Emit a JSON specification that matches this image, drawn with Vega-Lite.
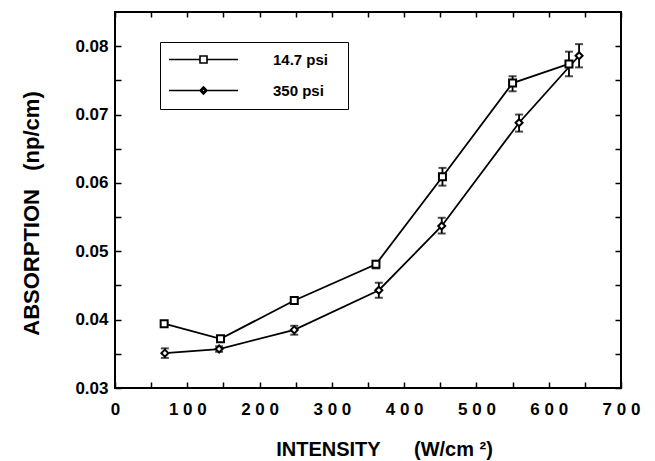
{
  "$schema": "https://vega.github.io/schema/vega-lite/v6.json",
  "width": 506,
  "height": 376,
  "autosize": "none",
  "padding": {"left": 115, "top": 12, "right": 34, "bottom": 73},
  "background": "white",
  "config": {
    "font": "Liberation Sans",
    "view": {"stroke": "black", "strokeWidth": 2},
    "axis": {"grid": false, "domain": false, "tickColor": "black", "tickWidth": 1.5, "labelColor": "black", "titleColor": "black", "labelFontWeight": "bold", "titleFontWeight": "bold", "labelFont": "Liberation Sans", "titleFont": "Liberation Sans", "labelOverlap": false, "labelFlush": false, "labelBound": false}
  },
  "data": {
    "values": [
      {"series": "14.7 psi", "intensity": 68, "absorption": 0.0394, "lo": 0.0392, "hi": 0.0396},
      {"series": "14.7 psi", "intensity": 146, "absorption": 0.0372, "lo": 0.0368, "hi": 0.0376},
      {"series": "14.7 psi", "intensity": 248, "absorption": 0.0428, "lo": 0.0423, "hi": 0.0432},
      {"series": "14.7 psi", "intensity": 361, "absorption": 0.0481, "lo": 0.0475, "hi": 0.0486},
      {"series": "14.7 psi", "intensity": 453, "absorption": 0.0609, "lo": 0.0596, "hi": 0.0622},
      {"series": "14.7 psi", "intensity": 550, "absorption": 0.0746, "lo": 0.0734, "hi": 0.0756},
      {"series": "14.7 psi", "intensity": 628, "absorption": 0.0774, "lo": 0.0756, "hi": 0.0792},
      {"series": "350 psi", "intensity": 69, "absorption": 0.0351, "lo": 0.0344, "hi": 0.0358},
      {"series": "350 psi", "intensity": 144, "absorption": 0.0357, "lo": 0.0353, "hi": 0.0361},
      {"series": "350 psi", "intensity": 248, "absorption": 0.0385, "lo": 0.0378, "hi": 0.0391},
      {"series": "350 psi", "intensity": 365, "absorption": 0.0443, "lo": 0.0432, "hi": 0.0454},
      {"series": "350 psi", "intensity": 452, "absorption": 0.0537, "lo": 0.0526, "hi": 0.0549},
      {"series": "350 psi", "intensity": 559, "absorption": 0.0688, "lo": 0.0675, "hi": 0.0700},
      {"series": "350 psi", "intensity": 642, "absorption": 0.0786, "lo": 0.0769, "hi": 0.0803}
    ]
  },
  "resolve": {"axis": {"x": "independent", "y": "independent"}, "scale": {"shape": "independent"}},
  "layer": [
    {
      "mark": {"type": "line", "color": "black", "strokeWidth": 1.8},
      "encoding": {
        "x": {"field": "intensity", "type": "quantitative", "scale": {"domain": [0, 700], "nice": false, "zero": false},
          "axis": {"orient": "bottom", "zindex": 5, "values": [0,50,100,150,200,250,300,350,400,450,500,550,600,650,700], "tickSize": -6, "labelPadding": 19, "labelFontSize": 17, "labelExpr": "datum.value % 100 === 0 ? join(split(datum.label, ''), ' ') : ''",
            "title": "INTENSITY\u00a0\u00a0\u00a0\u00a0\u00a0\u00a0(W/cm\u00a0\u00b2)", "titleFontSize": 20, "titleX": 269, "titleY": 67, "titleBaseline": "alphabetic", "titleAlign": "center"}},
        "y": {"field": "absorption", "type": "quantitative", "scale": {"domain": [0.03, 0.085], "nice": false, "zero": false},
          "axis": {"orient": "left", "zindex": 5, "values": [0.03,0.035,0.04,0.045,0.05,0.055,0.06,0.065,0.07,0.075,0.08], "tickSize": -6, "labelPadding": 13, "labelFontSize": 17, "labelExpr": "abs(datum.value*100 - round(datum.value*100)) < 0.01 ? format(datum.value, '.2f') : ''",
            "title": "ABSORPTION\u00a0\u00a0\u00a0(np/cm)", "titleFontSize": 22, "titleX": -77, "titleY": 201, "titleBaseline": "alphabetic", "titleAlign": "center", "titleAngle": -90}},
        "detail": {"field": "series", "type": "nominal"}
      }
    },
    {
      "mark": {"type": "rule", "color": "black", "strokeWidth": 1.8},
      "encoding": {
        "x": {"field": "intensity", "type": "quantitative",
          "axis": {"orient": "top", "values": [0,50,100,150,200,250,300,350,400,450,500,550,600,650,700], "tickSize": -5, "labels": false, "title": null, "zindex": 5}},
        "y": {"field": "lo", "type": "quantitative",
          "axis": {"orient": "right", "values": [0.03,0.035,0.04,0.045,0.05,0.055,0.06,0.065,0.07,0.075,0.08], "tickSize": -6, "labels": false, "title": null, "zindex": 5}},
        "y2": {"field": "hi"}
      }
    },
    {
      "mark": {"type": "tick", "orient": "horizontal", "size": 8, "thickness": 2, "color": "black"},
      "encoding": {
        "x": {"field": "intensity", "type": "quantitative", "axis": null},
        "y": {"field": "lo", "type": "quantitative", "axis": null}
      }
    },
    {
      "mark": {"type": "tick", "orient": "horizontal", "size": 8, "thickness": 2, "color": "black"},
      "encoding": {
        "x": {"field": "intensity", "type": "quantitative", "axis": null},
        "y": {"field": "hi", "type": "quantitative", "axis": null}
      }
    },
    {
      "mark": {"type": "point", "filled": false, "fill": "white", "stroke": "black", "strokeWidth": 2, "size": 49, "opacity": 1},
      "encoding": {
        "x": {"field": "intensity", "type": "quantitative", "axis": null},
        "y": {"field": "absorption", "type": "quantitative", "axis": null},
        "shape": {"field": "series", "type": "nominal",
          "scale": {"domain": ["14.7 psi", "350 psi"], "range": ["square", "diamond"]},
          "legend": null}
      }
    },
    {
      "mark": {"type": "point", "filled": false, "stroke": "black", "strokeWidth": 1.6, "size": 1, "opacity": 0},
      "encoding": {
        "x": {"field": "intensity", "type": "quantitative", "axis": null},
        "y": {"field": "absorption", "type": "quantitative", "axis": null},
        "shape": {"field": "series", "type": "nominal",
          "scale": {"domain": ["14.7 psi", "350 psi"], "range": ["M-6.9,0H-0.7M0.7,0H6.9M-0.7,-0.7H0.7V0.7H-0.7Z", "M-6.9,0H-0.7M0.7,0H6.9M-0.7,0L0,-0.7L0.7,0L0,0.7ZM-0.35,0L0,-0.35L0.35,0L0,0.35Z"]},
          "legend": {
            "orient": "none", "legendX": 45, "legendY": 30,
            "title": "\u00a0", "titleOrient": "right", "titlePadding": 10, "titleFontSize": 15,
            "strokeColor": "black", "padding": 10, "symbolSize": 100, "symbolOffset": 26, "rowPadding": 15, "labelOffset": 62,
            "labelFont": "Liberation Sans", "labelFontSize": 15, "labelFontWeight": "bold", "labelColor": "black",
            "symbolStrokeWidth": 1.6, "symbolStrokeColor": "black", "symbolOpacity": 1
          }
        }
      }
    }
  ]
}
